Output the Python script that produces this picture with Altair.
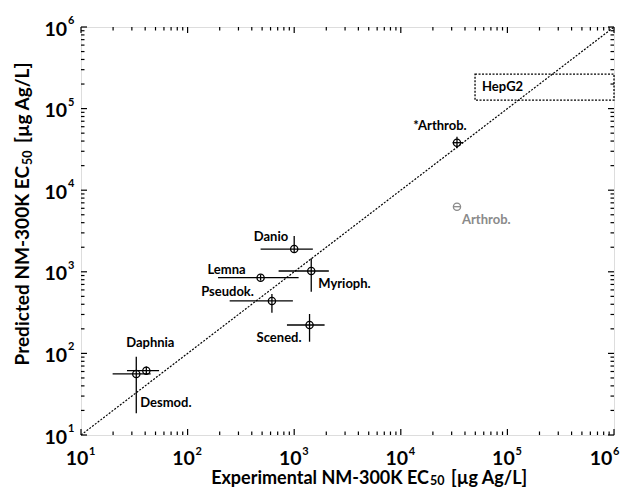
import altair as alt
import pandas as pd

# ---------------- data ----------------
species = ["Daphnia", "Desmod.", "Danio", "Lemna", "Myrioph.", "Pseudok.",
           "Scened.", "*Arthrob.", "Arthrob."]
exp_ec50 = [41, 33, 1000, 484, 1445, 618, 1393, 33650, 33650]
exp_low = [27, 19.8, 484, 193, 714, 248, 855, 30600, 30900]
exp_high = [54, 45, 1496, 1100, 2113, 972, 1928, 38500, 36700]
pred_ec50 = [61.4, 56, 1901, 847, 1023, 439, 223, 38200, 6280]
pred_low = [55, 18.5, 1700, 780, 570, 315, 139, 32600, 6280]
pred_high = [69, 91, 2747, 920, 1463, 534, 304, 45300, 6280]
status = ["included"] * 8 + ["excluded"]

hepg2_label = "HepG2"
hepg2_exp = [49700, 1000000]
hepg2_pred = [127000, 265000]

decades = [1, 2, 3, 4, 5, 6]
x_title = ["Experimental NM-300K EC", "50", "[µg Ag/L]"]
y_title = ["Predicted NM-300K EC", "50", "[µg Ag/L]"]

# ---------------- styles ----------------
W, H = 533, 408
FONT = "Lato"
label_style = {  # dx, dy, align
    "Daphnia": (4, -28, "center"),
    "Desmod.": (4, 29, "left"),
    "Danio": (-6, -12, "right"),
    "Lemna": (-15, -8, "right"),
    "Pseudok.": (-18, -9, "right"),
    "Myrioph.": (7, 13, "left"),
    "Scened.": (-8, 13, "right"),
    "*Arthrob.": (-17, -17, "center"),
    "Arthrob.": (5, 13, "left"),
}

df = pd.DataFrame({
    "species": species, "exp": exp_ec50, "exp_lo": exp_low, "exp_hi": exp_high,
    "pred": pred_ec50, "pred_lo": pred_low, "pred_hi": pred_high, "status": status,
})
hep = pd.DataFrame({"label": [hepg2_label], "x1": [hepg2_exp[0]], "x2": [hepg2_exp[1]],
                    "y1": [hepg2_pred[0]], "y2": [hepg2_pred[1]],
                    "ym": [(hepg2_pred[0] * hepg2_pred[1]) ** 0.5]})
diag = pd.DataFrame({"v": [10 ** decades[0], 10 ** decades[-1]]})
major = pd.DataFrame({"v": [10 ** d for d in decades], "e": [str(d) for d in decades]})
minor = pd.DataFrame({"v": [m * 10 ** d for d in decades[:-1] for m in range(2, 10)]})
major_inner = major.iloc[:-1]
major_last = major.iloc[-1:]
one = diag.head(1)

xs = alt.Scale(type="log", domain=[10, 1e6], nice=False)
ys = alt.Scale(type="log", domain=[10, 1e6], nice=False)
col = alt.Color("status:N", scale=alt.Scale(domain=["included", "excluded"],
                                            range=["black", "#8a8a8a"]), legend=None)

def X(f):
    return alt.X(f, type="quantitative", scale=xs, axis=None)

def Y(f):
    return alt.Y(f, type="quantitative", scale=ys, axis=None)

layers = []

# diagonal 1:1 line
layers.append(alt.Chart(diag).mark_line(color="black", strokeWidth=1.2, strokeDash=[2, 1.5])
              .encode(x=X("v"), y=Y("v")))

# HepG2 box
layers.append(alt.Chart(hep).mark_rect(fill=None, stroke="black", strokeWidth=1.3,
                                       strokeDash=[2, 1.5])
              .encode(x=X("x1"), x2="x2", y=Y("y1"), y2="y2"))
layers.append(alt.Chart(hep).mark_text(font=FONT, fontWeight="bold", fontSize=13,
                                       align="left", baseline="middle", dx=7)
              .encode(x=X("x1"), y=Y("ym"), text="label:N"))

# error bars
layers.append(alt.Chart(df).mark_rule(strokeWidth=1.3)
              .encode(x=X("exp_lo"), x2="exp_hi", y=Y("pred"), color=col))
layers.append(alt.Chart(df).mark_rule(strokeWidth=1.3)
              .encode(x=X("exp"), y=Y("pred_lo"), y2="pred_hi", color=col))

# markers
layers.append(alt.Chart(df).mark_point(shape="circle", filled=False, size=52, strokeWidth=1.3,
                                       opacity=1)
              .encode(x=X("exp"), y=Y("pred"), color=col))

# species labels
for name, (dx, dy, align) in label_style.items():
    layers.append(alt.Chart(df).transform_filter(alt.datum.species == name)
                  .mark_text(font=FONT, fontWeight="bold", fontSize=13, align=align,
                             baseline="middle", dx=dx, dy=dy)
                  .encode(x=X("exp"), y=Y("pred"), text="species:N", color=col))

# inward ticks
TK = dict(color="black", strokeWidth=1.2)
for data, ln in ((major, 6), (minor, 3.5)):
    layers.append(alt.Chart(data).mark_rule(**TK)
                  .encode(x=X("v"), y=alt.value(H), y2=alt.value(H - ln)))
    layers.append(alt.Chart(data).mark_rule(**TK)
                  .encode(x=X("v"), y=alt.value(0), y2=alt.value(ln)))
    layers.append(alt.Chart(data).mark_rule(**TK)
                  .encode(y=Y("v"), x=alt.value(0), x2=alt.value(ln)))
    layers.append(alt.Chart(data).mark_rule(**TK)
                  .encode(y=Y("v"), x=alt.value(W), x2=alt.value(W - ln)))

# tick labels: "10" + superscript exponent
BIG = dict(font=FONT, fontWeight="bold", fontSize=19.5, baseline="alphabetic")
SUP = dict(font=FONT, fontWeight="bold", fontSize=11, baseline="alphabetic")
for data, d10, dexp in ((major_inner, -4, 8), (major_last, -13, -1)):
    layers.append(alt.Chart(data).mark_text(align="center", dx=d10, **BIG)
                  .encode(x=X("v"), y=alt.value(H + 30), text=alt.value("10")))
    layers.append(alt.Chart(data).mark_text(align="left", dx=dexp, **SUP)
                  .encode(x=X("v"), y=alt.value(H + 19.5), text="e:N"))
layers.append(alt.Chart(major).mark_text(align="right", dx=-14, dy=8.5, **BIG)
              .encode(y=Y("v"), x=alt.value(0), text=alt.value("10")))
layers.append(alt.Chart(major).mark_text(align="left", dx=-13, dy=-3, **SUP)
              .encode(y=Y("v"), x=alt.value(0), text="e:N"))

# axis titles (main text, subscript, unit)
TF = dict(font=FONT, fontWeight="bold", baseline="alphabetic")
XA, XB = 348, H + 48.5        # end of "EC" / baseline of x title
layers.append(alt.Chart(one).mark_text(fontSize=18, align="right", **TF)
              .encode(x=alt.value(XA), y=alt.value(XB), text=alt.value(x_title[0])))
layers.append(alt.Chart(one).mark_text(fontSize=12.5, align="left", **TF)
              .encode(x=alt.value(XA + 1), y=alt.value(XB + 1.5), text=alt.value(x_title[1])))
layers.append(alt.Chart(one).mark_text(fontSize=18, align="left", **TF)
              .encode(x=alt.value(XA + 22), y=alt.value(XB), text=alt.value(x_title[2])))
YA, YB = 139, -52             # end of "EC" / baseline of y title
layers.append(alt.Chart(one).mark_text(fontSize=19, align="right", angle=270, **TF)
              .encode(x=alt.value(YB), y=alt.value(YA), text=alt.value(y_title[0])))
layers.append(alt.Chart(one).mark_text(fontSize=12.5, align="left", angle=270, **TF)
              .encode(x=alt.value(YB + 3), y=alt.value(YA - 1), text=alt.value(y_title[1])))
layers.append(alt.Chart(one).mark_text(fontSize=19, align="left", angle=270, **TF)
              .encode(x=alt.value(YB), y=alt.value(YA - 23), text=alt.value(y_title[2])))

chart = (alt.layer(*layers)
         .properties(width=W, height=H,
                     autosize=alt.AutoSizeParams(type="none"),
                     padding={"left": 73, "top": 19, "right": 6, "bottom": 52})
         .configure_view(stroke="black", strokeWidth=2)
         .configure(background="white"))

chart.save("out.html", embed_options={"renderer": "svg", "actions": False})
